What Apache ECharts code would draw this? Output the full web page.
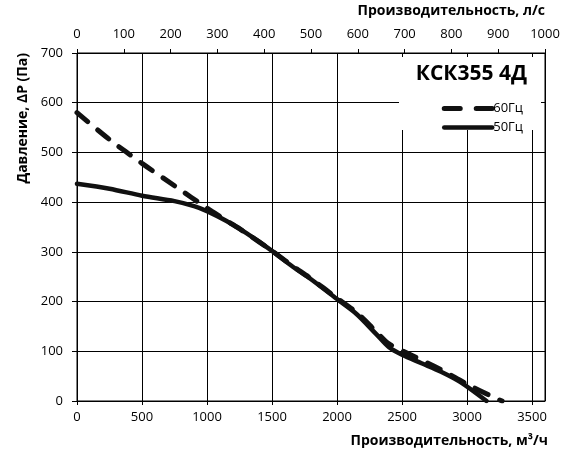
<!DOCTYPE html>
<html>
<head>
<meta charset="utf-8">
<script src="https://cdn.jsdelivr.net/npm/echarts@6/dist/echarts.min.js"></script>
<style>
  html, body { margin: 0; padding: 0; background: #fff; }
  #chart { width: 564px; height: 457px; }
</style>
</head>
<body>
<div id="chart"></div>
<script>
// Производительность, м³/ч -> давление, Па
const flow50 = [0, 250, 500, 750, 900, 1000, 1150, 1300, 1500, 1650, 1800, 2000, 2150, 2300, 2400, 2500, 2650, 2800, 2950, 3150];
const pres50 = [437, 427, 413, 402, 392, 382, 362, 338, 302, 272, 245, 205, 175, 135, 108, 93, 76, 59, 38, 0];

const flow60 = [0, 250, 500, 750, 1000, 1150, 1300, 1500, 1650, 1800, 2000, 2150, 2300, 2400, 2550, 2800, 3000, 3200, 3270];
const pres60 = [580, 526, 478, 433, 388, 363, 338, 302, 273, 246, 207, 178, 140, 115, 95, 63, 34, 8, 0];

const seriesNames = ['60Гц', '50Гц'];
const modelName = 'КСК355 4Д';

const FONT = "'Open Sans', 'DejaVu Sans', sans-serif";
const zip = (xs, ys) => xs.map((x, i) => [x, ys[i]]);
const plain = v => String(v);

const chart = echarts.init(document.getElementById('chart'));

chart.setOption({
  animation: false,
  textStyle: { fontFamily: FONT },
  grid: {
    left: 77, right: 19, top: 53, bottom: 56,
    show: true, borderColor: '#000', borderWidth: 1
  },
  legend: {
    orient: 'vertical',
    right: 36, top: 97,
    itemWidth: 48, itemHeight: 12, itemGap: 6,
    z: 20,
    itemStyle: { opacity: 0 },
    data: [
      { name: seriesNames[0], lineStyle: { width: 5, type: [16, 16], cap: 'round', color: '#111' } },
      { name: seriesNames[1], lineStyle: { width: 4.5, type: 'solid', cap: 'round', color: '#111' } }
    ],
    textStyle: { fontSize: 13, color: '#000', fontFamily: FONT, padding: [0, 0, 0, -4] }
  },
  xAxis: [
    {
      type: 'value', position: 'bottom',
      min: 0, max: 3600, interval: 500,
      axisLine: { lineStyle: { color: '#000', width: 1 } },
      axisTick: { show: true, length: 4, lineStyle: { color: '#000' } },
      axisLabel: { color: '#000', fontSize: 13, margin: 10, showMaxLabel: false, formatter: plain },
      splitLine: { show: true, lineStyle: { color: '#000', width: 1 } }
    },
    {
      type: 'value', position: 'top',
      min: 0, max: 1000, interval: 100,
      axisLine: { show: true, lineStyle: { color: '#000', width: 1 } },
      axisTick: { show: true, length: 4, lineStyle: { color: '#000' } },
      axisLabel: { color: '#000', fontSize: 13, margin: 12, formatter: plain },
      splitLine: { show: false }
    }
  ],
  yAxis: {
    type: 'value', min: 0, max: 700, interval: 100,
    axisLine: { show: true, lineStyle: { color: '#000', width: 1 } },
    axisTick: { show: true, length: 5, lineStyle: { color: '#000' } },
    axisLabel: { color: '#000', fontSize: 13, margin: 14, formatter: plain },
    splitLine: { show: true, lineStyle: { color: '#000', width: 1 } }
  },
  graphic: [
    { type: 'rect', z: 10, shape: { x: 399, y: 57, width: 142, height: 73 }, style: { fill: '#fff' } },
    { type: 'text', z: 21, x: 527, y: 74,
      style: { text: modelName, font: "bold 21px " + FONT, fill: '#000', textAlign: 'right', textVerticalAlign: 'middle' } },
    { type: 'text', x: 545, y: 11,
      style: { text: 'Производительность, л/с', font: "bold 14px " + FONT, fill: '#000', textAlign: 'right', textVerticalAlign: 'middle' } },
    { type: 'text', x: 548, y: 441,
      style: { text: 'Производительность, м³/ч', font: "bold 14px " + FONT, fill: '#000', textAlign: 'right', textVerticalAlign: 'middle' } },
    { type: 'text', x: 23, y: 53, rotation: Math.PI / 2,
      style: { text: 'Давление, ΔP (Па)', font: "bold 14px " + FONT, fill: '#000', textAlign: 'right', textVerticalAlign: 'middle' } }
  ],
  series: [
    {
      name: seriesNames[0], type: 'line', xAxisIndex: 0,
      data: zip(flow60, pres60),
      smooth: 0.3, symbol: 'none',
      lineStyle: { color: '#111', width: 5, type: [14, 13], cap: 'round' },
      itemStyle: { color: '#111' }
    },
    {
      name: seriesNames[1], type: 'line', xAxisIndex: 0,
      data: zip(flow50, pres50),
      smooth: 0.3, symbol: 'none',
      lineStyle: { color: '#111', width: 4.5, cap: 'round' },
      itemStyle: { color: '#111' }
    }
  ]
});
</script>
</body>
</html>
